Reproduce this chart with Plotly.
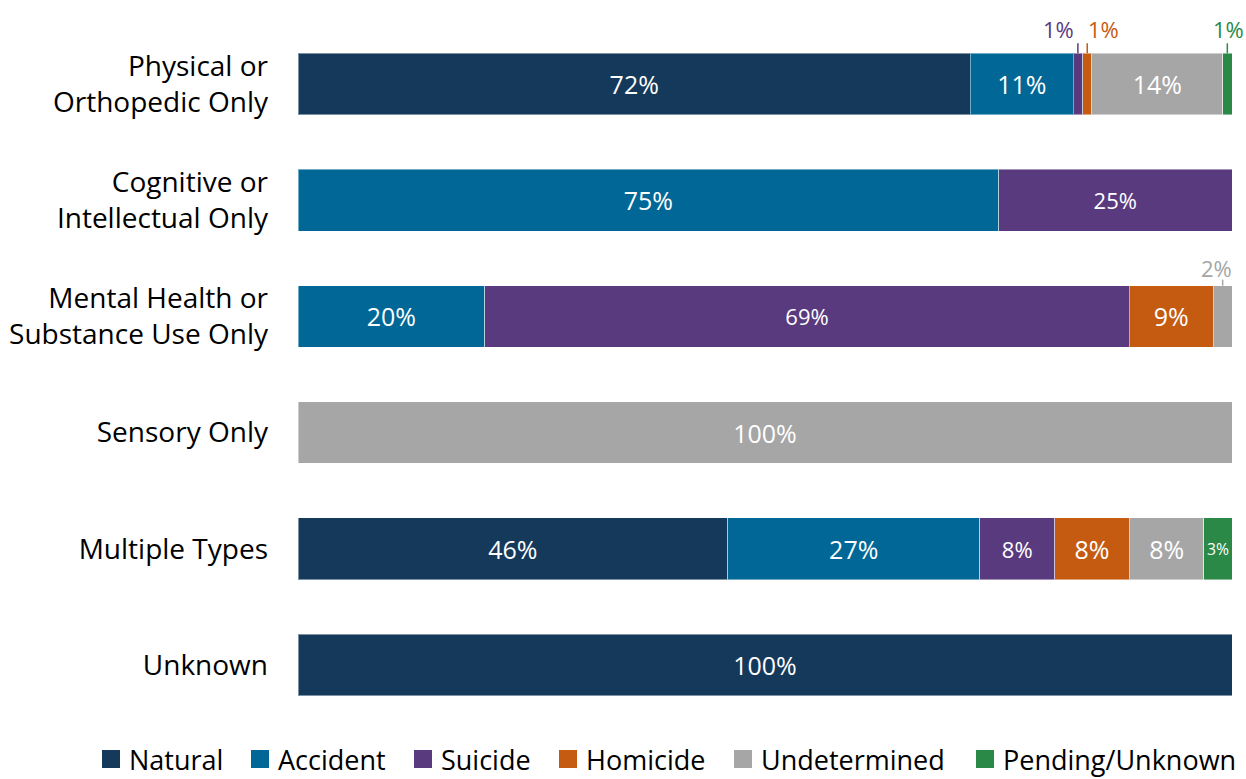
import plotly.graph_objects as go

categories = [
    "Physical or<br>Orthopedic Only",
    "Cognitive or<br>Intellectual Only",
    "Mental Health or<br>Substance Use Only",
    "Sensory Only",
    "Multiple Types",
    "Unknown",
]

causes = ["Natural", "Accident", "Suicide", "Homicide", "Undetermined", "Pending/Unknown"]

natural = [72, 0, 0, 0, 46, 100]
accident = [11, 75, 20, 0, 27, 0]
suicide = [1, 25, 69, 0, 8, 0]
homicide = [1, 0, 9, 0, 8, 0]
undetermined = [14, 0, 2, 100, 8, 0]
pending = [1, 0, 0, 0, 3, 0]

series = [natural, accident, suicide, homicide, undetermined, pending]

colors = ["#15395b", "#006796", "#5a3a7f", "#c55a11", "#a6a6a6", "#2a8946"]

# horizontal nudges for the small labels drawn above the bars
label_shift = {(0, 2): -19, (0, 3): 16, (0, 5): 1, (2, 4): -6}

FONT = "Open Sans"
W, H = 1246, 779
M_L, M_R, M_T, M_B = 298, 14, 26, 56
PW, PH = W - M_L - M_R, H - M_T - M_B
bargap = 0.47
half = (1 - bargap) / 2


def px_x(px):
    return (px - M_L) / PW


def px_y(py):
    return (H - M_B - py) / PH


fig = go.Figure()

for i, (name, vals) in enumerate(zip(causes, series)):
    text = [f"{v}%" if v >= 3 else "" for v in vals]
    fig.add_trace(go.Bar(
        y=categories,
        x=vals,
        name=name,
        orientation="h",
        marker=dict(color=colors[i], line=dict(color="rgba(255,255,255,0.45)", width=1)),
        text=text,
        textposition="inside",
        insidetextanchor="middle",
        textangle=0,
        constraintext="inside" if name == "Pending/Unknown" else "none",
        textfont=dict(family=FONT, size=22 if name == "Suicide" else 25, color="white"),
        hoverinfo="x+y+name",
        showlegend=False,
    ))

shapes = []
annotations = []

# small segments: labels above the bar with a short leader line
for i, vals in enumerate(series):
    for r, v in enumerate(vals):
        if 0 < v < 3:
            start = sum(s[r] for s in series[:i])
            mid = start + v / 2
            top = r - half
            shapes.append(dict(
                type="line", xref="x", yref="y",
                x0=mid, x1=mid, ysizemode="pixel", yanchor=top,
                y0=0, y1=10 if r == 0 else 6,
                line=dict(color=colors[i], width=1.5),
            ))
            annotations.append(dict(
                x=mid, y=top, xref="x", yref="y",
                text=f"{v}%", showarrow=False,
                xshift=label_shift.get((r, i), 0),
                yshift=24 if r == 0 else 18,
                font=dict(family=FONT, size=22, color=colors[i]),
            ))

# legend drawn by hand along the bottom
legend_left = [102, 251, 414, 559, 734, 976]
sq = 18
sq_top = 750
for i, name in enumerate(causes):
    x0 = legend_left[i]
    shapes.append(dict(
        type="rect", xref="paper", yref="paper",
        x0=px_x(x0), x1=px_x(x0 + sq), y0=px_y(sq_top + sq), y1=px_y(sq_top),
        fillcolor=colors[i], line=dict(width=0),
    ))
    annotations.append(dict(
        x=px_x(x0 + sq + 7), y=px_y(sq_top + sq / 2), xref="paper", yref="paper",
        xanchor="left", yanchor="middle", showarrow=False,
        text=name, font=dict(family=FONT, size=27, color="black"),
    ))

fig.update_layout(
    barmode="stack",
    bargap=bargap,
    width=W,
    height=H,
    margin=dict(l=M_L, r=M_R, t=M_T, b=M_B, autoexpand=False),
    plot_bgcolor="white",
    paper_bgcolor="white",
    font=dict(family=FONT, size=28, color="black"),
    shapes=shapes,
    annotations=annotations,
    showlegend=False,
)

fig.update_xaxes(range=[0, 100], visible=False, showgrid=False)
fig.update_yaxes(
    autorange="reversed",
    showgrid=False, showline=False, ticks="",
    ticklabelstandoff=29,
    tickfont=dict(family=FONT, size=28, color="black"),
)

# drop the browser's default body margin so the chart sits at the page corner
fig.write_html(
    "out.html",
    config={"displayModeBar": False},
    post_script="document.body.style.margin='0';",
)
